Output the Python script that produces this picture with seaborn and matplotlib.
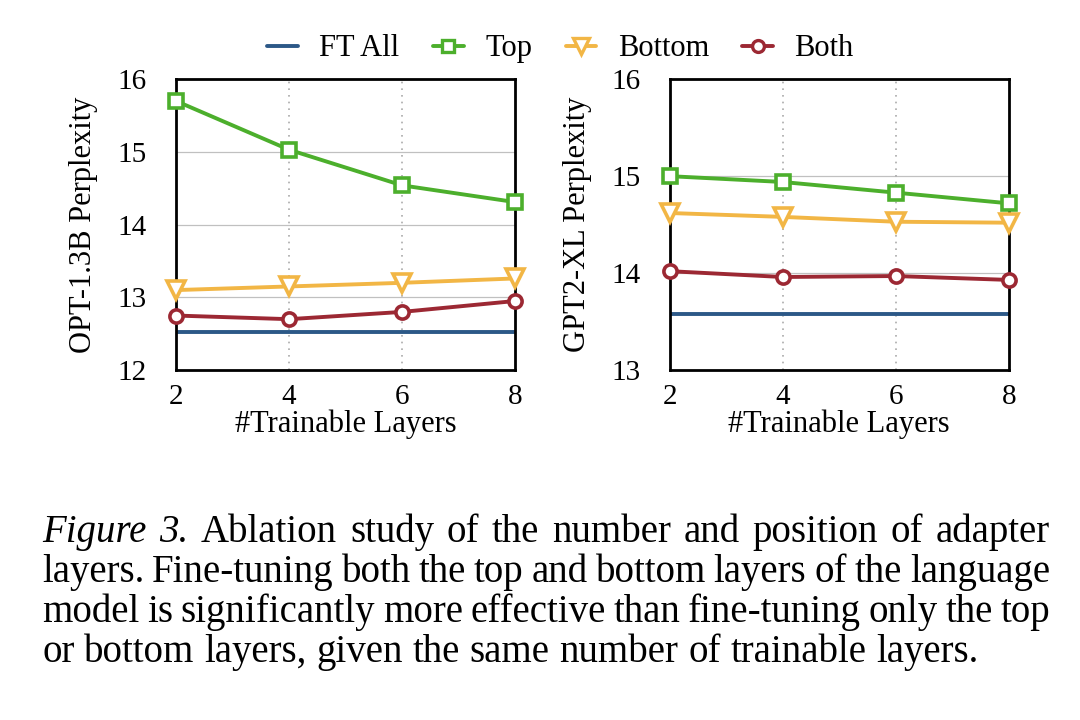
import numpy as np
import pandas as pd
import matplotlib
matplotlib.use("Agg")
import matplotlib.pyplot as plt
import seaborn as sns
from matplotlib.lines import Line2D

layers = [2, 4, 6, 8]
series_names = ["Top", "Bottom", "Both"]

opt_top = [15.70, 15.03, 14.54, 14.31]
opt_bottom = [13.10, 13.15, 13.20, 13.26]
opt_both = [12.75, 12.70, 12.80, 12.95]
opt_ft_all = 12.53

gpt_top = [15.00, 14.94, 14.83, 14.72]
gpt_bottom = [14.62, 14.58, 14.53, 14.52]
gpt_both = [14.02, 13.96, 13.97, 13.93]
gpt_ft_all = 13.58

ylabels = ["OPT-1.3B Perplexity", "GPT2-XL Perplexity"]
xlabel = "#Trainable Layers"
legend_labels = ["FT All", "Top", "Bottom", "Both"]

caption_italic = "Figure 3."
caption_lines = [
    "Ablation study of the number and position of adapter",
    "layers. Fine-tuning both the top and bottom layers of the language",
    "model is significantly more effective than fine-tuning only the top",
    "or bottom layers, given the same number of trainable layers.",
]

colors = {"FT All": "#2c5887", "Top": "#4caf2c", "Bottom": "#f2b645", "Both": "#9c2833"}
markers = {"Top": "s", "Bottom": "v", "Both": "o"}
msizes = {"Top": 9.5, "Bottom": 12.5, "Both": 9.5}

sns.set_theme(style="white")
plt.rcParams["font.family"] = ["Liberation Serif", "DejaVu Serif"]
for k in ["text.color", "axes.labelcolor", "xtick.color", "ytick.color"]:
    plt.rcParams[k] = "black"

fig = plt.figure(figsize=(10.8, 7.2), dpi=100)
ax1 = fig.add_axes([0.163, 0.486, 0.314, 0.404])
ax2 = fig.add_axes([0.620, 0.486, 0.314, 0.404])

datasets = [
    (ax1, opt_top, opt_bottom, opt_both, opt_ft_all, (12, 16), [12, 13, 14, 15, 16]),
    (ax2, gpt_top, gpt_bottom, gpt_both, gpt_ft_all, (13, 16), [13, 14, 15, 16]),
]

for i, (ax, top, bottom, both, ft, ylim, yticks) in enumerate(datasets):
    df = pd.DataFrame({
        "layers": layers * 3,
        "ppl": top + bottom + both,
        "series": ["Top"] * 4 + ["Bottom"] * 4 + ["Both"] * 4,
    })
    ax.set_xlim(2, 8)
    ax.set_ylim(*ylim)
    for y in yticks[1:-1]:
        ax.axhline(y, color="#c0c0c0", lw=0.9, zorder=0)
    for x in [4, 6]:
        ax.axvline(x, color="#aaaaaa", lw=1.2, ls=(0, (1, 3)), zorder=0)
    ax.plot([2, 8], [ft, ft], color=colors["FT All"], lw=2.8, zorder=2)
    sns.lineplot(data=df, x="layers", y="ppl", hue="series", style="series",
                 hue_order=series_names, style_order=series_names,
                 palette=colors, markers=markers, dashes=False, lw=2.8,
                 markersize=10, markerfacecolor="white", markeredgewidth=2.6,
                 ax=ax, legend=False, zorder=3, clip_on=False)
    for line, s in zip(ax.lines[-3:], series_names):
        line.set_markeredgecolor(line.get_color())
        line.set_markersize(msizes[s])
    ax.set_xticks(layers)
    ax.set_yticks(yticks)
    ax.tick_params(axis="y", labelsize=21, length=0, pad=21)
    ax.tick_params(axis="x", labelsize=21, length=0, pad=10)
    ax.set_xlabel(xlabel, fontsize=22, labelpad=0)
    ax.set_ylabel(ylabels[i], fontsize=22, labelpad=14)
    for sp in ax.spines.values():
        sp.set_color("black")
        sp.set_linewidth(2.0)
    ax.grid(False)

handles = [Line2D([], [], color=colors["FT All"], lw=2.8)]
for s in series_names:
    handles.append(Line2D([], [], color=colors[s], lw=2.8, marker=markers[s],
                          markersize=msizes[s] * 0.9, markerfacecolor="white",
                          markeredgecolor=colors[s], markeredgewidth=2.4))
fig.legend(handles, legend_labels, loc="center", bbox_to_anchor=(0.519, 0.932),
           ncol=4, frameon=False, fontsize=22, handlelength=1.0,
           columnspacing=1.1, handletextpad=0.7)

# caption
fig.canvas.draw()
renderer = fig.canvas.get_renderer()
W = fig.bbox.width
x_left, x_right = 42 / W, 1050 / W
ys = [1 - 542 / 720, 1 - 582 / 720, 1 - 622 / 720, 1 - 662 / 720]
FS = 28


def draw_words(words, y, justify):
    texts = []
    for w, st in words:
        t = fig.text(0, y, w, fontsize=FS, style=st, va="baseline", ha="left")
        texts.append(t)
    widths = [t.get_window_extent(renderer).width / W for t in texts]
    probe = fig.text(0, 0, "a a", fontsize=FS)
    pa = fig.text(0, 0, "aa", fontsize=FS)
    space = (probe.get_window_extent(renderer).width - pa.get_window_extent(renderer).width) / W
    probe.remove(); pa.remove()
    if justify and len(texts) > 1:
        space = (x_right - x_left - sum(widths)) / (len(texts) - 1)
    x = x_left
    for t, wd in zip(texts, widths):
        t.set_x(x)
        x += wd + space


for k, (line, y) in enumerate(zip(caption_lines, ys)):
    words = [(w, "normal") for w in line.split(" ")]
    if k == 0:
        words = [(w, "italic") for w in caption_italic.split(" ")] + words
    draw_words(words, y, justify=(k < 3))

fig.savefig("out.png", dpi=100, facecolor="white")
